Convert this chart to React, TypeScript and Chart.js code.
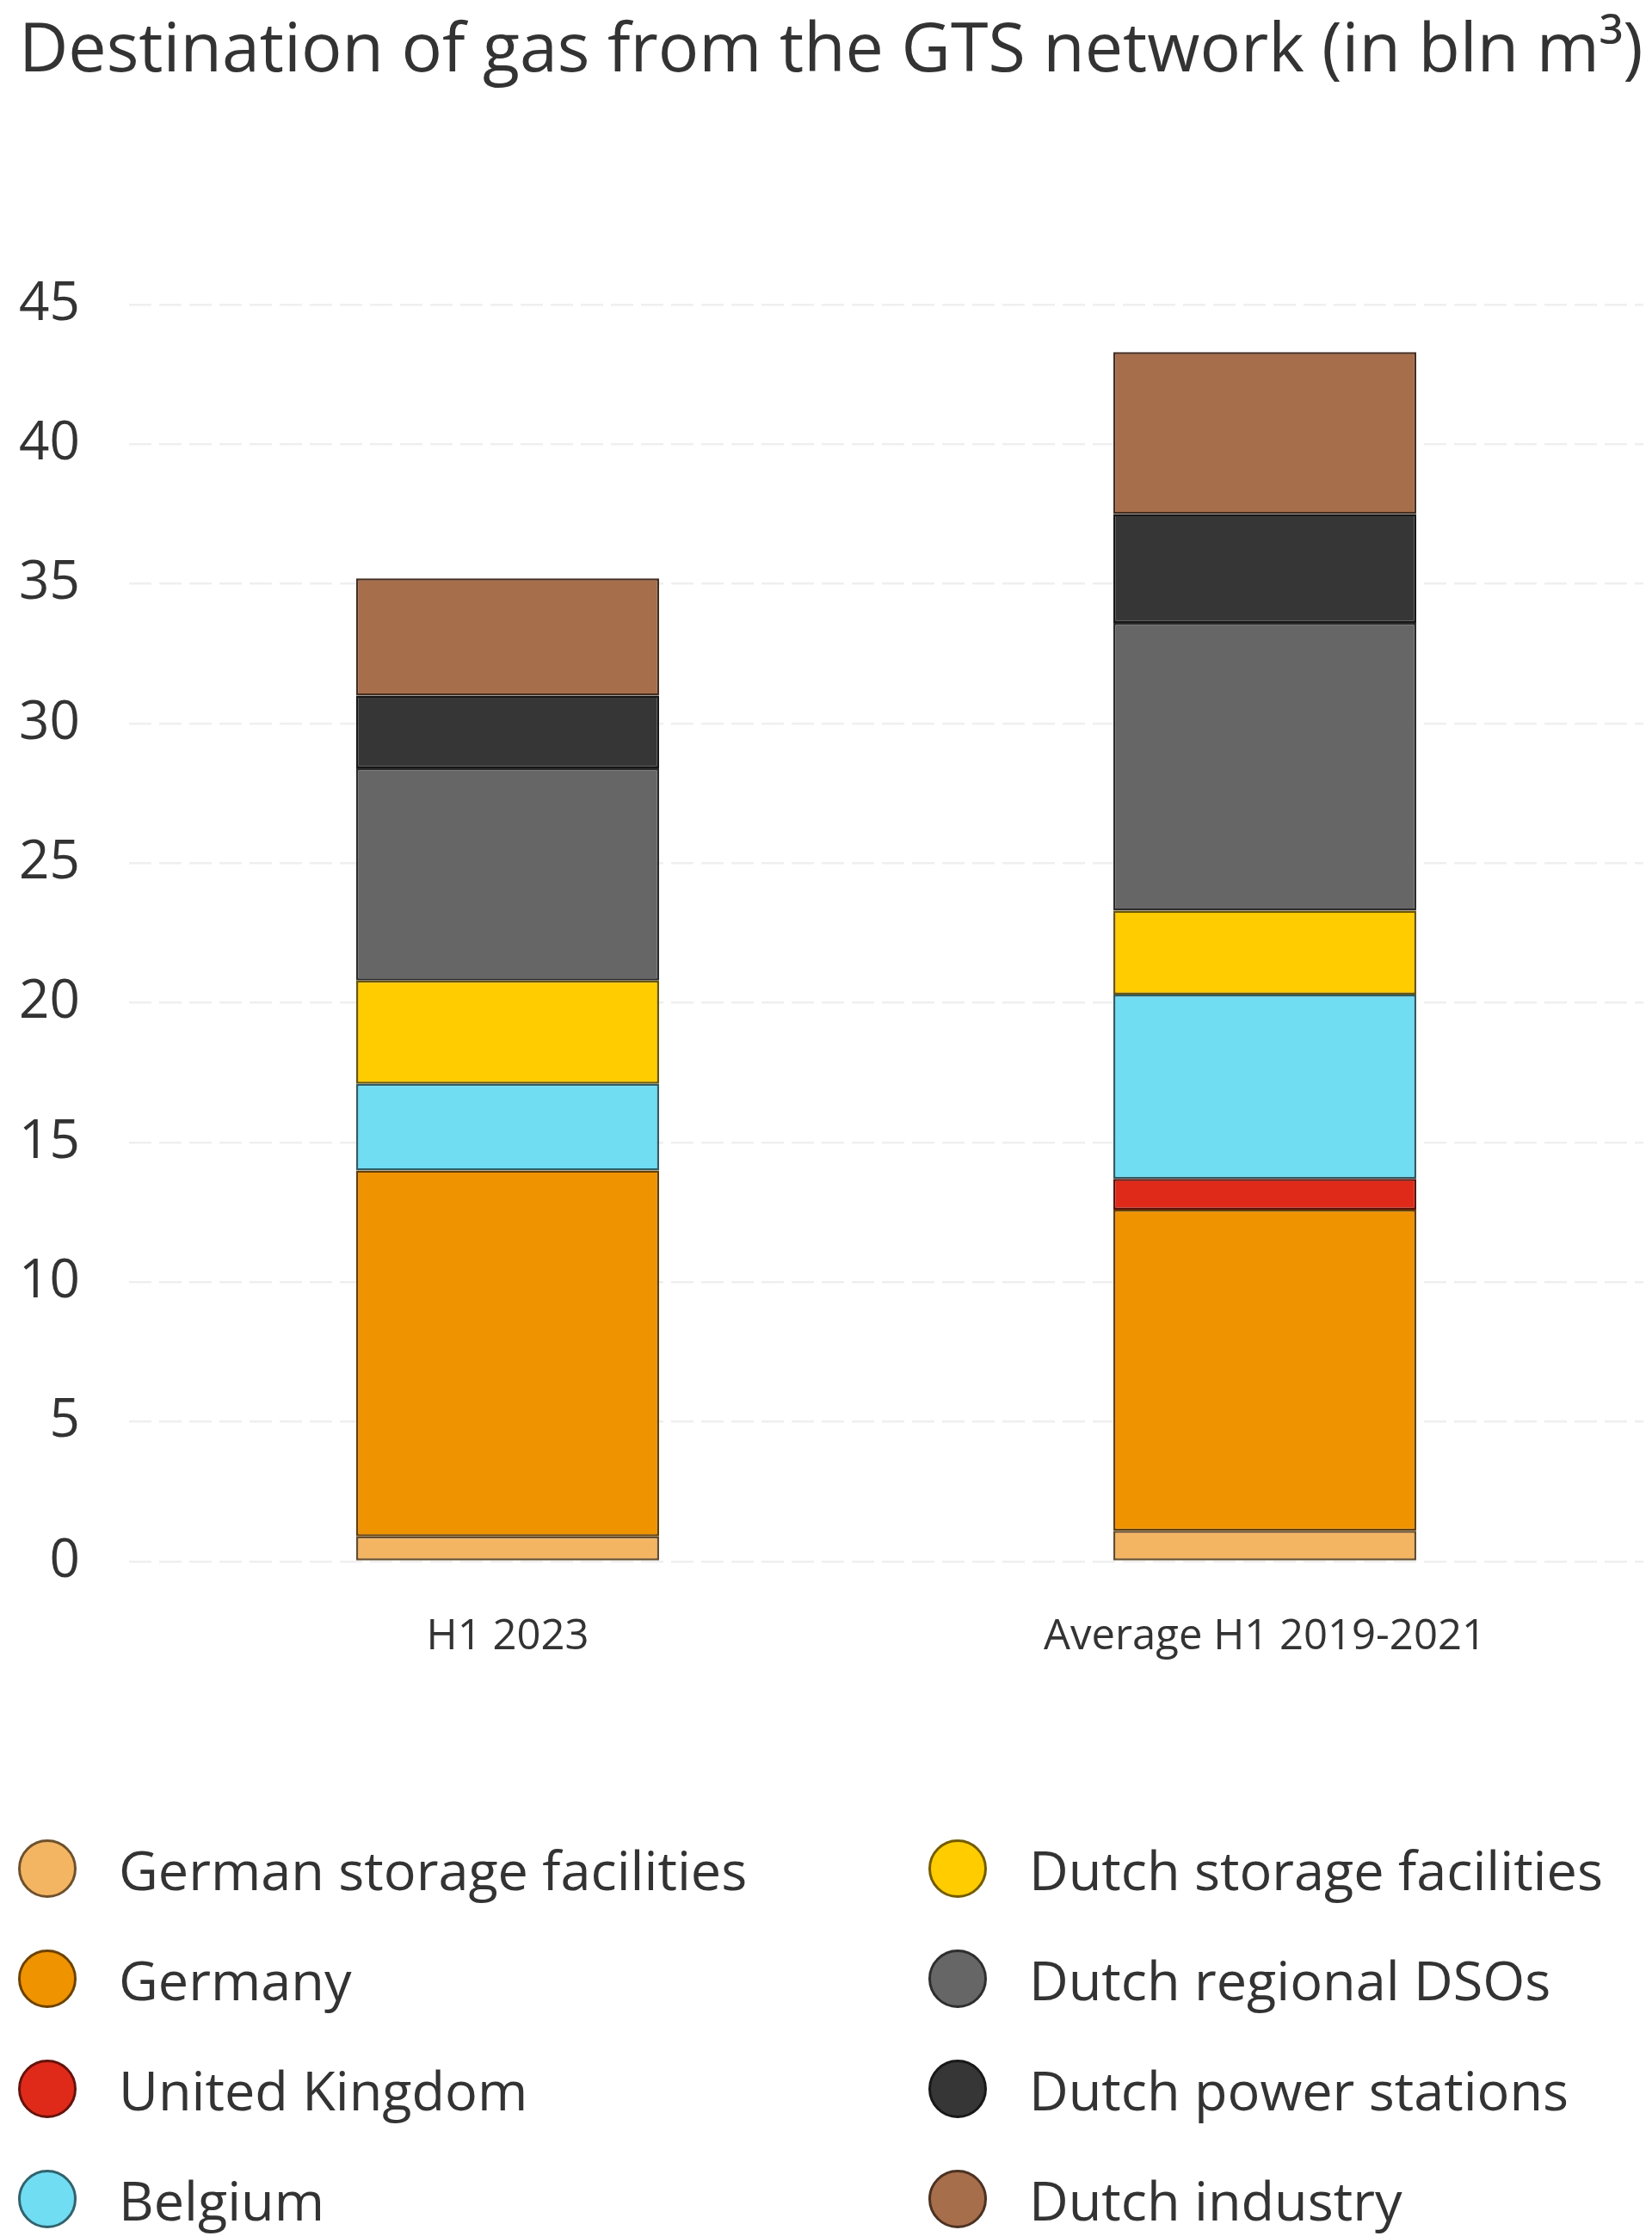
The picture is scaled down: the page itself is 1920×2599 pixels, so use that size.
import React, { useEffect, useRef } from "react";
import { Chart, registerables } from "chart.js";

Chart.register(...registerables);

// ---- data ----
const title = "Destination of gas from the GTS network (in bln m³)";
const categories = ["H1 2023", "Average H1 2019-2021"];
const seriesNames = [
  "German storage facilities",
  "Germany",
  "United Kingdom",
  "Belgium",
  "Dutch storage facilities",
  "Dutch regional DSOs",
  "Dutch power stations",
  "Dutch industry",
];
const germanStorage = [0.9, 1.1];
const germany = [13.1, 11.5];
const unitedKingdom = [null, 1.1];
const belgium = [3.1, 6.6];
const dutchStorage = [3.7, 3.0];
const dutchDSOs = [7.6, 10.3];
const dutchPower = [2.6, 3.9];
const dutchIndustry = [4.2, 5.8];
const yMin = 0;
const yMax = 45;
const yStep = 5;

// ---- styles ----
const seriesColors = [
  "#F4B563",
  "#F09300",
  "#DF2A1A",
  "#70DDF3",
  "#FFCC00",
  "#666666",
  "#363636",
  "#A76E4B",
];
const FONT = "'Open Sans', 'Noto Sans', sans-serif";
const TEXT = "#333333";

function darken(hex: string, f: number): string {
  const n = parseInt(hex.slice(1), 16);
  const r = Math.round(((n >> 16) & 255) * f);
  const g = Math.round(((n >> 8) & 255) * f);
  const b = Math.round((n & 255) * f);
  return `rgb(${r},${g},${b})`;
}

const seriesData = [
  germanStorage,
  germany,
  unitedKingdom,
  belgium,
  dutchStorage,
  dutchDSOs,
  dutchPower,
  dutchIndustry,
];

function BarChart() {
  const ref = useRef<HTMLCanvasElement | null>(null);
  useEffect(() => {
    if (!ref.current) return;
    const chart = new Chart(ref.current, {
      type: "bar",
      data: {
        labels: categories,
        datasets: seriesNames.map((name, i) => ({
          label: name,
          data: seriesData[i] as any,
          backgroundColor: seriesColors[i],
          borderColor: darken(seriesColors[i], 0.42),
          borderWidth: 2.5,
          borderSkipped: false,
          barPercentage: 0.4,
          categoryPercentage: 1,
        })),
      },
      options: {
        animation: false,
        responsive: false,
        devicePixelRatio: 1,
        layout: { padding: { top: 354, right: 10, left: 0, bottom: 0 } },
        plugins: {
          legend: { display: false },
          title: { display: false },
          tooltip: { enabled: false },
        },
        scales: {
          x: {
            stacked: true,
            grid: { display: false, drawTicks: false },
            border: { display: false },
            ticks: {
              color: TEXT,
              font: { family: FONT, size: 49 },
              padding: 59,
            },
            afterFit: (s: any) => {
              s.height = 185;
            },
          },
          y: {
            stacked: true,
            min: yMin,
            max: yMax,
            grid: {
              color: "#efefef",
              lineWidth: 2.5,
              drawTicks: false,
            },
            border: { display: false, dash: [26, 9] },
            ticks: {
              stepSize: yStep,
              color: TEXT,
              font: { family: FONT, size: 62 },
              padding: 57,
            },
            afterFit: (s: any) => {
              s.width = 150;
            },
          },
        },
      },
    });
    return () => chart.destroy();
  }, []);
  return (
    <canvas
      ref={ref}
      width={1920}
      height={2000}
      style={{ position: "absolute", left: 0, top: 0, width: 1920, height: 2000 }}
    />
  );
}

function Legend() {
  const colLeft = [21, 1079];
  const rowCenter = [2172, 2300, 2428, 2556];
  return (
    <>
      {seriesNames.map((name, i) => {
        const col = Math.floor(i / 4);
        const row = i % 4;
        return (
          <div
            key={name}
            style={{
              position: "absolute",
              left: colLeft[col],
              top: rowCenter[row] - 34,
              height: 68,
              display: "flex",
              alignItems: "center",
              whiteSpace: "nowrap",
            }}
          >
            <div
              style={{
                width: 68,
                height: 68,
                boxSizing: "border-box",
                borderRadius: "50%",
                background: seriesColors[i],
                border: `3px solid ${darken(seriesColors[i], 0.45)}`,
                flex: "0 0 auto",
              }}
            />
            <span
              style={{
                marginLeft: 49,
                fontFamily: FONT,
                fontSize: 63,
                color: TEXT,
              }}
            >
              {name}
            </span>
          </div>
        );
      })}
    </>
  );
}

export default function App() {
  return (
    <div
      style={{
        position: "absolute",
        left: 0,
        top: 0,
        width: 1920,
        height: 2599,
        background: "#ffffff",
        overflow: "hidden",
      }}
    >
      <BarChart />
      <div
        style={{
          position: "absolute",
          left: 22,
          top: 14,
          fontFamily: FONT,
          fontSize: 79,
          lineHeight: "78px",
          fontWeight: 500,
          color: TEXT,
          whiteSpace: "nowrap",
        }}
      >
        {title}
      </div>
      <Legend />
    </div>
  );
}
